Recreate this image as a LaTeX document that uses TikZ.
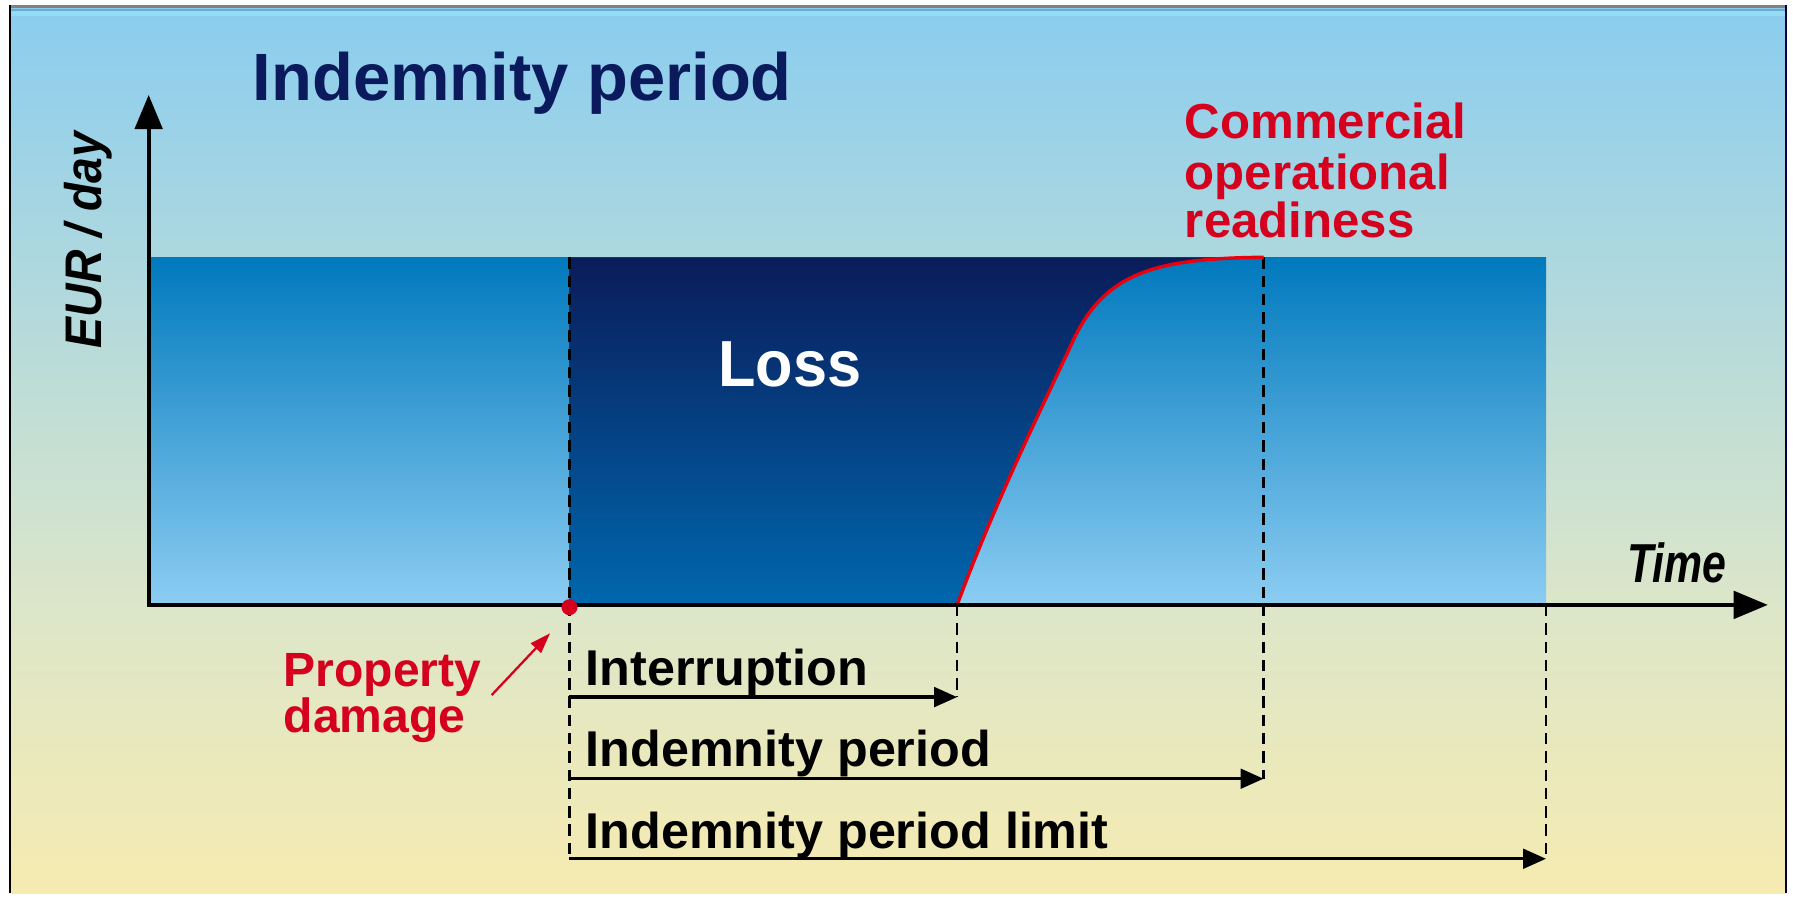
\documentclass[tikz,border=0pt]{standalone}
\usepackage{fontspec}
\setmainfont{Liberation Sans}
\usepackage{graphicx}
\usetikzlibrary{arrows.meta}

% palette
\definecolor{skytop}{HTML}{8ACDEF}
\definecolor{skymid}{HTML}{A6D6EA}
\definecolor{haze}{HTML}{DCE6C9}
\definecolor{sand}{HTML}{F6EBB1}
\definecolor{bandtop}{HTML}{0079BD}
\definecolor{bandmid}{HTML}{2A91D2}
\definecolor{bandbot}{HTML}{8CCDF2}
\definecolor{losstop}{HTML}{0A1C5A}
\definecolor{lossmid}{HTML}{064386}
\definecolor{lossbot}{HTML}{0067AD}
\definecolor{navytext}{HTML}{0A1A5C}
\definecolor{alertred}{HTML}{D4001E}
\definecolor{curvered}{HTML}{E8000E}
\definecolor{rimgray}{HTML}{86807A}
\definecolor{rimblue}{HTML}{6AAAD0}
\definecolor{rimcyan}{HTML}{92DCF6}

\newcommand\setfs[1]{\fontsize{#1pt}{#1pt}\selectfont}

\begin{document}
\begin{tikzpicture}[x=1pt,y=1pt,
  txt/.style={inner sep=0pt, anchor=base west},
  rowlabel/.style={txt, font=\setfs{44}\bfseries, text=black},
  redlabel/.style={txt, font=\setfs{43}\bfseries, text=alertred},
  guide/.style={line width=2.4pt, dash pattern=on 10pt off 6pt},
  span/.style={line width=3pt, -{Triangle[length=20pt,width=17pt]}},
  axisline/.style={line width=3.6pt, line cap=rect, -{Triangle[length=30pt,width=24pt]}},
  pointer/.style={line width=2pt, draw=alertred, -{Triangle[length=18pt,width=12pt]}},
  recovery/.style={line width=3pt, draw=curvered}
]
\useasboundingbox (0,0) rectangle (1568,785);
\fill[white] (0,0) rectangle (1568,785);

% backdrop: sky fading to sand
\shade[top color=skytop, middle color=skymid, bottom color=haze] (9,255) rectangle (1562,779);
\shade[top color=haze, bottom color=sand] (9,4) rectangle (1562,256);

% frame rims
\draw[rimcyan, line width=4pt] (9,773) -- (1562,773);
\draw[rimblue, line width=1.5pt] (9,776.5) -- (1562,776.5);
\draw[rimgray, line width=3pt] (9,779.5) -- (1562,779.5);
\draw[black, line width=2pt] (9,4) -- (9,781);
\draw[black!75!blue, line width=2pt] (1562,4) -- (1562,781);

% key points
\coordinate (origin) at (130,256);
\coordinate (ytip) at (130,702);
\coordinate (xtip) at (1546,256);
\coordinate (dmgtop) at (498,560);
\coordinate (dmg) at (498,256);
\coordinate (restart) at (837,256);
\coordinate (bend) at (937,484);
\coordinate (ready) at (1105,560);
\coordinate (limit) at (1352,256);
\coordinate (s1a) at (498,175.4);
\coordinate (s1b) at (837,175.4);
\coordinate (s2a) at (498,104);
\coordinate (s2b) at (1105,104);
\coordinate (s3a) at (498,34);
\coordinate (s3b) at (1352,34);
\coordinate (ptail) at (430,177.2);
\coordinate (phead) at (481,231.2);

% revenue band
\shade[top color=bandtop, middle color=bandmid, bottom color=bandbot]
  (origin) rectangle (1352,560);

% loss area up to the recovery curve
\shade[top color=losstop, middle color=lossmid, bottom color=lossbot]
  (dmg) -- (dmgtop) -- (ready)
  .. controls (1010,559) and (965,547) .. (bend)
  .. controls (907,420) and (870,345) .. (restart) -- cycle;

% guide lines
\draw[guide] (dmgtop) -- (s3a);
\draw[guide] (restart) -- (s1b);
\draw[guide] (ready) -- (s2b);
\draw[guide] (limit) -- (s3b);

% recovery curve
\draw[recovery] (restart) .. controls (870,345) and (907,420) .. (bend)
  .. controls (965,547) and (1010,559) .. (ready);

% axes
\draw[axisline] (origin) -- (ytip);
\draw[axisline] (origin) -- (xtip);

% period spans
\draw[span] (s1a) -- (s1b);
\draw[span] (s2a) -- (s2b);
\draw[span] (s3a) -- (s3b);

% damage event
\node[circle, fill=alertred, inner sep=0pt, minimum size=14pt] (dot) at (498,254) {};
\draw[pointer] (ptail) -- (phead);

% texts
\node[txt, font=\setfs{58.5}\bfseries, text=navytext] (title) at (221,697) {Indemnity period};
\node[inner sep=0pt, anchor=base, rotate=90, font=\setfs{45}\bfseries\itshape] (yunit) at (89,575)
  {\scalebox{0.9}[1]{EUR / day}};
\node[txt, font=\setfs{48}\bfseries\itshape] (xunit) at (1423,276) {\scalebox{0.78}[1]{Time}};
\node[txt, font=\setfs{57}\bfseries, text=white] (loss) at (628,447) {\scalebox{0.94}[1]{Loss}};

\node[redlabel] (cor1) at (1036,664) {Commercial};
\node[redlabel] (cor2) at (1036,619) {operational};
\node[redlabel] (cor3) at (1036,577) {readiness};

\node[redlabel, font=\setfs{42}\bfseries] (pd1) at (248,185) {Property};
\node[redlabel, font=\setfs{42}\bfseries] (pd2) at (248,144) {damage};

\node[rowlabel] (l1) at (512,185.4) {Interruption};
\node[rowlabel] (l2) at (512,114.5) {Indemnity period};
\node[rowlabel] (l3) at (512,43.4) {Indemnity period limit};
\end{tikzpicture}
\end{document}
